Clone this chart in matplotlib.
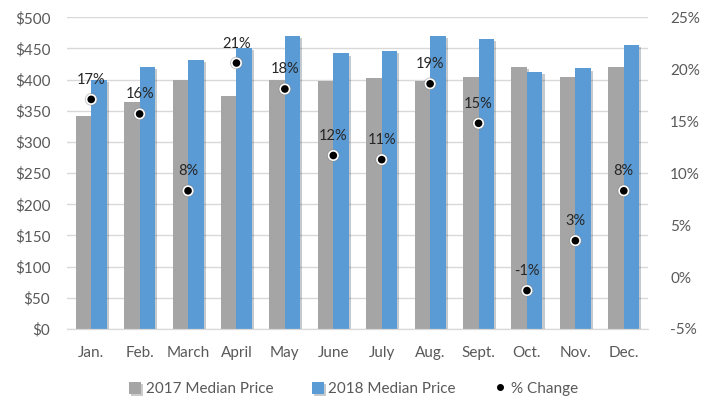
import matplotlib.pyplot as plt
import matplotlib.patheffects as pe
import numpy as np
from matplotlib.lines import Line2D
from matplotlib.ticker import FuncFormatter

months = ["Jan.", "Feb.", "March", "April", "May", "June",
          "July", "Aug.", "Sept.", "Oct.", "Nov.", "Dec."]
price_2017 = [341, 364, 399, 373, 399, 398, 402, 398, 404, 420, 404, 421]
price_2018 = [399, 421, 432, 451, 470, 442, 446, 470, 465, 413, 418, 456]
pct_change = [17.1, 15.7, 8.3, 20.6, 18.1, 11.7, 11.3, 18.6, 14.8, -1.3, 3.5, 8.3]
pct_labels = ["17%", "16%", "8%", "21%", "18%", "12%",
              "11%", "19%", "15%", "-1%", "3%", "8%"]

GRAY = "#A5A5A5"
BLUE = "#5B9BD5"
TXT = "#595959"

plt.rcParams["font.family"] = ["Lato", "DejaVu Sans"]

fig = plt.figure(figsize=(7.07, 4.01), dpi=100)
ax = fig.add_axes([67 / 707, 1 - 329 / 401, (648 - 67) / 707, (329 - 17.3) / 401])
ax2 = ax.twinx()

x = np.arange(len(months))
w = 0.32
shadow = [pe.SimplePatchShadow(offset=(1.5, -1.5), alpha=0.25), pe.Normal()]
ax.bar(x - w / 2, price_2017, w, color=GRAY, label="2017 Median Price",
       path_effects=shadow, zorder=2)
ax.bar(x + w / 2, price_2018, w, color=BLUE, label="2018 Median Price",
       path_effects=shadow, zorder=2)

ax.set_xlim(-0.5, len(months) - 0.5)
ax.set_ylim(0, 500)
ax.set_yticks(range(0, 501, 50))
ax.yaxis.set_major_formatter(FuncFormatter(lambda v, _: f"${v:.0f}"))
ax.grid(axis="y", color="#D9D9D9", linewidth=1, zorder=0)
ax.set_axisbelow(True)
ax.set_xticks(x)
ax.set_xticklabels(months)

ax2.scatter(x, pct_change, s=45, color="black", edgecolor="white",
            linewidth=1.2, zorder=5,
            path_effects=[pe.withStroke(linewidth=2.5, foreground="#888888", alpha=0.5)])
for xi, yi, lab in zip(x, pct_change, pct_labels):
    ax2.annotate(lab, (xi, yi), xytext=(0, 9), textcoords="offset points",
                 ha="center", va="bottom", fontsize=10.5, color="#262626")
ax2.set_ylim(-5, 25)
ax2.set_yticks(range(-5, 26, 5))
ax2.yaxis.set_major_formatter(FuncFormatter(lambda v, _: f"{v:.0f}%"))

for a in (ax, ax2):
    for s in ("top", "left", "right"):
        a.spines[s].set_visible(False)
    a.spines["bottom"].set_color("#D9D9D9")
    a.tick_params(length=0, colors=TXT, labelsize=11)
ax.tick_params(axis="x", pad=12)
ax.tick_params(axis="y", pad=12)
ax2.tick_params(axis="y", pad=16)

h1, l1 = ax.get_legend_handles_labels()
dot = Line2D([], [], marker="o", linestyle="none", color="black", markersize=4)
fig.legend(h1 + [dot], l1 + ["% Change"], loc="center", bbox_to_anchor=(0.5, 1 - 389 / 401),
           ncol=3, frameon=False, fontsize=11, labelcolor=TXT,
           handlelength=0.8, handleheight=0.8, handletextpad=0.3, columnspacing=2.5)

fig.savefig("out.png", dpi=100, facecolor="white")
